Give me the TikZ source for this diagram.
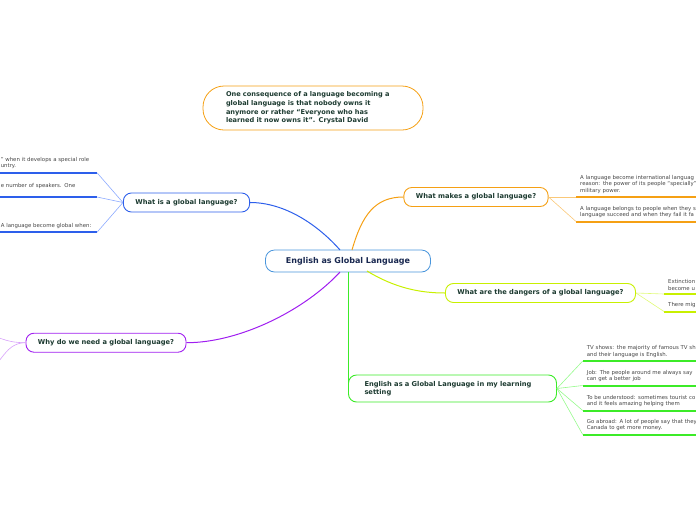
\documentclass[tikz,border=0pt]{standalone}
\usepackage{fontspec}
\setmainfont{DejaVu Sans}
\definecolor{centblue}{RGB}{74,150,220}
\definecolor{centtxt}{RGB}{25,40,80}
\definecolor{topictxt}{RGB}{28,58,48}
\definecolor{leaftxt}{RGB}{70,70,70}
\definecolor{isblue}{RGB}{45,95,235}
\definecolor{isthin}{RGB}{140,170,255}
\definecolor{mkorange}{RGB}{245,160,20}
\definecolor{mkthin}{RGB}{250,200,120}
\definecolor{dgyellow}{RGB}{200,240,0}
\definecolor{dgthin}{RGB}{225,250,120}
\definecolor{stgreen}{RGB}{60,235,40}
\definecolor{stthin}{RGB}{150,250,140}
\definecolor{whypurple}{RGB}{160,30,240}
\definecolor{whythin}{RGB}{215,160,250}
\usepackage{tikz}
\usetikzlibrary{positioning,calc}

\begin{document}
\begin{tikzpicture}[x=1pt,y=-1pt,
        topic/.style={draw,fill=white,rounded corners=8pt,line width=0.9pt,
                      text=topictxt,font=\bfseries\fontsize{6.7}{8.6}\selectfont,
                      minimum height=19pt,inner xsep=12pt},
        leaf/.style={text=leaftxt,font=\fontsize{5.4}{6.3}\selectfont,
                     text width=150pt,align=left,inner xsep=4pt,inner ysep=3.5pt},
        leftleaf/.style={leaf,text width=95pt,inner xsep=1pt,anchor=south east},
        link/.style={line width=1pt},
        twig/.style={line width=0.6pt}
    ]
        \useasboundingbox (0,0) rectangle (696,520);

        % Nodes
        \node[draw=centblue,fill=white,rounded corners=9pt,line width=0.8pt,
              text=centtxt,font=\bfseries\fontsize{8}{10}\selectfont,
              minimum width=165pt,minimum height=22pt] (eng) at (348,261) {English as Global Language};
        \node[draw=mkorange,rounded corners=21pt,line width=0.8pt,text=topictxt,
              font=\bfseries\fontsize{6.6}{8.7}\selectfont,text width=174pt,align=left,
              inner xsep=23pt,minimum height=44pt] (quote) at (313,108)
              {One consequence of a language becoming a\\global language is that nobody owns it\\anymore or rather ``Everyone who has\\learned it now owns it''. Crystal David};

        \node[topic,draw=isblue] (is) at (186.5,202.5) {What is a global language?};
        \node[topic,draw=mkorange] (mk) at (476,197) {What makes a global language?};
        \node[topic,draw=dgyellow] (dg) at (540.5,293) {What are the dangers of a global language?};
        \node[topic,draw=stgreen,text width=176pt,align=left,inner xsep=16pt,
              minimum height=27pt] (st) at (452.5,388.5) {English as a Global Language in my learning\\setting};
        \node[topic,draw=whypurple] (why) at (106,342.7) {Why do we need a global language?};

        % Leaves
        \node[leftleaf] (is1) at (97,172.7) {'' when it develops a special role\\untry.};
        \node[leftleaf] (is2) at (97,197) {e number of speakers. One\\\mbox{}};
        \node[leftleaf] (is3) at (97,232.3) {A language become global when:};

        \node[leaf,anchor=south west] (mk1) at (576,197) {A language become international languag\\reason: the power of its people ``specially''\\military power.};
        \node[leaf,anchor=south west] (mk2) at (576,221.5) {A language belongs to people when they s\\language succeed and when they fail it fa};

        \node[leaf,anchor=south west] (dg1) at (664,294) {Extinction\\become u};
        \node[leaf,anchor=south west] (dg2) at (664,311.5) {There mig};

        \node[leaf,anchor=south west] (st1) at (582.7,361) {TV shows: the majority of famous TV sh\\and their language is English.};
        \node[leaf,anchor=south west] (st2) at (582.7,385.5) {Job: The people around me always say\\can get a better job};
        \node[leaf,anchor=south west] (st3) at (582.7,410.5) {To be understood: sometimes tourist co\\and it feels amazing helping them};
        \node[leaf,anchor=south west] (st4) at (582.7,434.5) {Go abroad: A lot of people say that they\\Canada to get more money.};

        \coordinate (why1) at (-20,335);
        \coordinate (why2) at (-20,372);

        % Bars under the leaves
        \foreach \n/\c in {is1/isblue,is2/isblue,is3/isblue,mk1/mkorange,mk2/mkorange,
                           dg1/dgyellow,dg2/dgyellow,st1/stgreen,st2/stgreen,st3/stgreen,st4/stgreen}
            \fill[fill=\c] ($(\n.south west)+(0,-1)$) rectangle ($(\n.south east)+(0,1)$);

        % Links from the centre
        \draw[link,draw=isblue] (340,250) .. controls (318,225) and (285,202.5) .. (is.east);
        \draw[link,draw=mkorange] (352,250) .. controls (362,215) and (375,197) .. (mk.west);
        \draw[link,draw=dgyellow] (367,271) .. controls (395,288) and (420,293) .. (dg.west);
        \draw[link,draw=stgreen] (eng.south) |- (st.west);
        \draw[link,draw=whypurple] (340,272) .. controls (305,310) and (240,342.7) .. (why.east);

        % Twigs to the leaves
        \foreach \n in {is1,is2,is3}
            \draw[twig,draw=isthin] (is.west) .. controls ($(is.west)!0.5!(\n.south east)$ |- is.west)
                and ($(is.west)!0.5!(\n.south east)$ |- \n.south east) .. (\n.south east);
        \foreach \n in {mk1,mk2}
            \draw[twig,draw=mkthin] (mk.east) .. controls ($(mk.east)!0.5!(\n.south west)$ |- mk.east)
                and ($(mk.east)!0.5!(\n.south west)$ |- \n.south west) .. (\n.south west);
        \foreach \n in {dg1,dg2}
            \draw[twig,draw=dgthin] (dg.east) .. controls ($(dg.east)!0.5!(\n.south west)$ |- dg.east)
                and ($(dg.east)!0.5!(\n.south west)$ |- \n.south west) .. (\n.south west);
        \foreach \n in {st1,st2,st3,st4}
            \draw[twig,draw=stthin] (st.east) .. controls ($(st.east)!0.5!(\n.south west)$ |- st.east)
                and ($(st.east)!0.5!(\n.south west)$ |- \n.south west) .. (\n.south west);
        \foreach \n in {why1,why2}
            \draw[twig,draw=whythin] (why.west) .. controls (1.5,342.7) and (1.5,0 |- \n) .. (\n);
    \end{tikzpicture}
\end{document}
